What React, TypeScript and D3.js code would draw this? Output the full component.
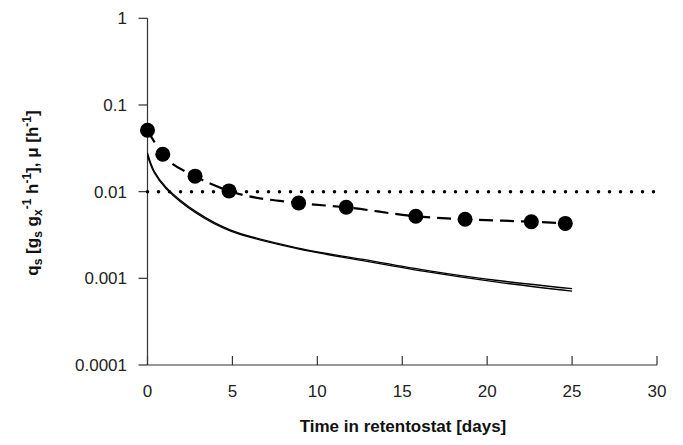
import React from 'react';
import * as d3 from 'd3';

const pointDays = [0, 0.9, 2.8, 4.8, 8.9, 11.7, 15.8, 18.7, 22.6, 24.6];
const pointQs = [0.051, 0.027, 0.0151, 0.0102, 0.0074, 0.0066, 0.0052, 0.0048, 0.0045, 0.0043];

const curveDays = [0, 0.4, 1.1, 2.9, 4.9, 8.8, 12.7, 16.6, 20.5, 25];
const curveA = [0.026, 0.0165, 0.0108, 0.0056, 0.0035, 0.0022, 0.0016, 0.00118, 0.00091, 0.00071];
const curveB = [0.028, 0.0172, 0.0112, 0.0058, 0.0036, 0.00225, 0.00165, 0.00122, 0.00095, 0.00076];

const muLevel = 0.01;
const xTicks = [0, 5, 10, 15, 20, 25, 30];
const yTicks = [1, 0.1, 0.01, 0.001, 0.0001];
const yTickLabels = ['1', '0.1', '0.01', '0.001', '0.0001'];

export default function App() {
  const width = 683;
  const height = 445;
  const x = d3.scaleLinear().domain([0, 30]).range([147.5, 657]);
  const y = d3.scaleLog().domain([0.0001, 1]).range([365, 18.3]);
  const font = 'Liberation Sans, Arial, sans-serif';

  const fitLine = d3.line<number>()
    .x((_, i) => x(pointDays[i]))
    .y(d => y(d))
    .curve(d3.curveMonotoneX);
  const modelLine = (days: number[]) => d3.line<number>()
    .x((_, i) => x(days[i]))
    .y(d => y(d))
    .curve(d3.curveCatmullRom.alpha(0.5));

  return (
    <svg width={width} height={height} style={{ position: 'absolute', left: 0, top: 0, background: '#fff' }}
      fontFamily={font}>
      {/* axes */}
      <line x1={x(0)} x2={x(30)} y1={y(0.0001)} y2={y(0.0001)} stroke="#333" strokeWidth={1.2} />
      <line x1={x(0)} x2={x(0)} y1={y(1)} y2={y(0.0001)} stroke="#333" strokeWidth={1.2} />
      {xTicks.map(t => (
        <g key={t}>
          <line x1={x(t)} x2={x(t)} y1={y(0.0001)} y2={y(0.0001) - 9} stroke="#333" strokeWidth={1.2} />
          <text x={x(t)} y={397} textAnchor="middle" fontSize={17} fill="#222">{t}</text>
        </g>
      ))}
      {yTicks.map((t, i) => (
        <g key={t}>
          <line x1={x(0) - 9} x2={x(0)} y1={y(t)} y2={y(t)} stroke="#333" strokeWidth={1.2} />
          <text x={127} y={y(t) + 6} textAnchor="end" fontSize={17} fill="#222">{yTickLabels[i]}</text>
        </g>
      ))}

      {/* mu dotted line */}
      <line x1={x(0)} x2={x(29.8)} y1={y(muLevel)} y2={y(muLevel)} stroke="#000" strokeWidth={3.5}
        strokeLinecap="round" strokeDasharray="0 11" />

      {/* model curves */}
      <path d={modelLine(curveDays)(curveA) || ''} fill="none" stroke="#000" strokeWidth={1.3} />
      <path d={modelLine(curveDays)(curveB) || ''} fill="none" stroke="#000" strokeWidth={1.3} />

      {/* fit + data */}
      <path d={fitLine(pointQs) || ''} fill="none" stroke="#000" strokeWidth={2.2} strokeDasharray="14 7" />
      {pointQs.map((v, i) => (
        <circle key={i} cx={x(pointDays[i])} cy={y(v)} r={7.5} fill="#000" />
      ))}

      {/* axis titles */}
      <text x={403} y={432} textAnchor="middle" fontSize={17} fontWeight="bold" fill="#111">
        Time in retentostat [days]
      </text>
      <text transform="translate(38,193) rotate(-90)" textAnchor="middle" fontSize={17} fontWeight="bold" fill="#111">
        q<tspan fontSize={12} dy={4}>s</tspan>
        <tspan dy={-4}> [g</tspan><tspan fontSize={12} dy={4}>s</tspan>
        <tspan dy={-4}> g</tspan><tspan fontSize={12} dy={4}>x</tspan>
        <tspan fontSize={12} dy={-11}>-1</tspan>
        <tspan dy={7}> h</tspan><tspan fontSize={12} dy={-7}>-1</tspan>
        <tspan dy={7}>], μ [h</tspan><tspan fontSize={12} dy={-7}>-1</tspan>
        <tspan dy={7}>]</tspan>
      </text>
    </svg>
  );
}
